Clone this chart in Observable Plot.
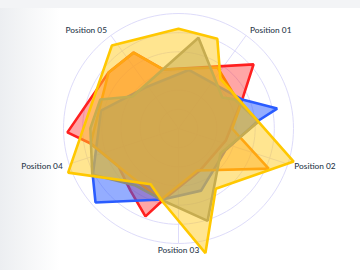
<!DOCTYPE html>
<html>
<head>
<meta charset="utf-8">
<script src="https://cdn.jsdelivr.net/npm/d3@7"></script>
<script src="https://cdn.jsdelivr.net/npm/@observablehq/plot@0.6"></script>
<style>
  html, body { margin: 0; padding: 0; }
  body {
    width: 360px; height: 270px; overflow: hidden; position: relative;
    background: linear-gradient(to right, #eceef1 0px, #f6f7f8 30px, #ffffff 60px);
    font-family: Lato, "Open Sans", sans-serif;
  }
  #topband { position: absolute; left: 0; top: 0; width: 360px; height: 8px; background: #f3f4f6; }
  #chart { position: absolute; left: 0; top: 0; }
</style>
</head>
<body>
<div id="topband"></div>
<div id="chart"></div>
<script>
// ---- data (angle in degrees clockwise from top, value on 0–120 radial scale) ----
const axisLabels = ["Position 01", "Position 02", "Position 03", "Position 04", "Position 05"];
const axisAngles = [36, 108, 180, 252, 324];
const ringValues = [20, 40, 60, 80, 100, 120];

const redAngles  = [49.5, 65.6, 104, 152, 192.5, 200.6, 217.7, 237.7, 260.3, 268, 308.7, 329.4, 345.7];
const redValues  = [103, 73, 51, 49, 77, 98, 82, 74, 93, 116, 93.5, 92, 63.5];

const blueAngles = [10, 65.6, 78.6, 84.3, 115, 160, 192.7, 228.3, 241.3, 283, 321];
const blueValues = [62, 73, 105, 84, 54, 69, 76, 116, 102, 83, 55];

const orangeAngles = [32.6, 69.6, 90, 98.3, 114, 155.7, 194, 237.7, 260.3, 308.7, 329.4, 345.7];
const orangeValues = [75.5, 69, 56, 65, 103, 48, 77, 74, 93, 93.5, 92, 63.5];

const grayAngles = [12.4, 54.8, 62.6, 85, 120.8, 162.5, 191.8, 217, 241.9, 270, 290.4, 304.8];
const grayValues = [97, 56, 66, 84, 51, 101, 77, 74.5, 102, 92, 87, 58.5];

const yellowAngles = [0, 23.4, 40, 106, 148.3, 167.8, 192.4, 206.6, 248.2, 321.2];
const yellowValues = [104, 102, 68, 125, 74, 133, 78, 65, 124, 111];

const seriesNames   = ["red", "blue", "orange", "gray", "yellow"];
const strokeColors  = ["#ff2020", "#2a5cff", "#ff8000", "#8c8c7e", "#ffc800"];
const fillColors    = ["#ff2020", "#2a5cff", "#ff8000", "#8c8c7e", "#ffcc22"];
const seriesOpacity = [0.4, 0.5, 0.4, 0.5, 0.5];

// ---- layout ----
const W = 360, H = 270, CX = 178, CY = 128, R_PX = 115;
const R_MAX = d3.max(ringValues);
const k = R_PX / R_MAX;
const rad = a => a * Math.PI / 180;
const px = d => d.v * Math.sin(rad(d.a));
const py = d => d.v * Math.cos(rad(d.a));

const series = [
  [redAngles, redValues], [blueAngles, blueValues], [orangeAngles, orangeValues],
  [grayAngles, grayValues], [yellowAngles, yellowValues]
].map(([as, vs], i) => as.map((a, j) => ({series: seriesNames[i], a, v: vs[j]})));

const ringPts = ringValues.flatMap(v => d3.range(0, 361, 3).map(a => ({ring: v, a, v})));
const spokes = axisAngles.map(a => ({a, v: R_MAX}));
const labels = axisAngles.map((a, i) => ({a, v: 127, text: axisLabels[i]}));
const anchorOf = d => Math.abs(Math.sin(rad(d.a))) < 0.1 ? "middle" : (Math.sin(rad(d.a)) > 0 ? "start" : "end");

const marks = [
  Plot.line(ringPts, {x: px, y: py, z: "ring", stroke: "#dedcfa", strokeWidth: 1}),
  Plot.link(spokes, {x1: 0, y1: 0, x2: px, y2: py, stroke: "#dedcfa", strokeWidth: 1})
];
series.forEach((data, i) => {
  marks.push(Plot.line(data, {
    x: px, y: py, curve: "linear-closed",
    fill: fillColors[i], fillOpacity: seriesOpacity[i],
    stroke: strokeColors[i], strokeWidth: 2.6, strokeLinejoin: "miter"
  }));
});
["start", "middle", "end"].forEach(anchor => {
  marks.push(Plot.text(labels.filter(d => anchorOf(d) === anchor), {
    x: px, y: py, text: "text", textAnchor: anchor,
    lineAnchor: "middle", fill: "#2b3a4c", fontSize: 8.3, fontWeight: 500
  }));
});

const chart = Plot.plot({
  width: W, height: H,
  marginTop: 0, marginRight: 0, marginBottom: 0, marginLeft: 0,
  x: {domain: [-CX / k, (W - CX) / k], axis: null},
  y: {domain: [-(H - CY) / k, CY / k], axis: null},
  style: {background: "transparent", fontFamily: "Lato, 'Open Sans', sans-serif"},
  marks
});
document.getElementById("chart").appendChild(chart);
</script>
</body>
</html>
